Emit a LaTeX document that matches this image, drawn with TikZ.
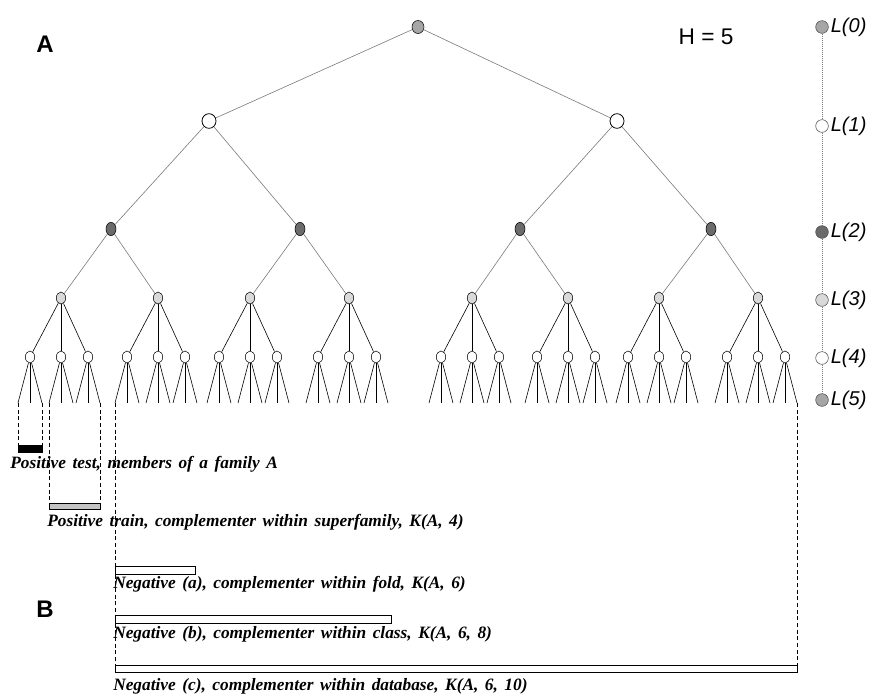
\documentclass[tikz,border=0pt]{standalone}
\usepackage{fontspec}
\setmainfont{Liberation Serif}
\setsansfont{Liberation Sans}
\newfontfamily\capfont{Liberation Serif}[WordSpace=1.5]
\usetikzlibrary{positioning,shapes.geometric}
\definecolor{midgray}{HTML}{A6A6A6}
\definecolor{deepgray}{HTML}{6B6B6B}
\definecolor{palegray}{HTML}{D9D9D9}
\definecolor{edgegray}{HTML}{7A7A7A}
\definecolor{stipple}{HTML}{C4C4C4}
\tikzset{
  paneltag/.style={font=\sffamily\bfseries\fontsize{18}{20}\selectfont},
  heighttag/.style={font=\sffamily\fontsize{17}{19}\selectfont},
  lvltext/.style={font=\sffamily\itshape\fontsize{15}{17}\selectfont,inner sep=0pt},
  caption/.style={font=\capfont\bfseries\itshape\fontsize{13}{15}\selectfont,anchor=west,inner sep=0pt},
  treenode/.style={ellipse,draw=black,line width=0.4pt,inner sep=0pt},
  rootnode/.style={treenode,fill=midgray,minimum width=9pt,minimum height=9.75pt},
  opennode/.style={treenode,fill=white,line width=0.6pt,minimum width=10.5pt,minimum height=11pt},
  darknode/.style={treenode,fill=deepgray,minimum width=7.5pt,minimum height=10pt},
  palenode/.style={treenode,fill=palegray,minimum width=7pt,minimum height=9pt},
  smallnode/.style={treenode,fill=white,minimum width=7pt,minimum height=9pt},
  legnode/.style={circle,draw=black!70,line width=0.4pt,inner sep=0pt,minimum size=9.5pt},
  edge/.style={draw=edgegray,line width=0.45pt},
  twig/.style={draw=black,line width=0.45pt},
  twigmid/.style={draw=black,line width=0.65pt},
  legline/.style={draw=edgegray,line width=0.5pt,densely dotted},
  guide/.style={draw=black,line width=0.6pt,dash pattern=on 3pt off 2pt},
  bar/.style={draw=black,line width=0.5pt,inner sep=0pt,anchor=north west}
}
\begin{document}
\begin{tikzpicture}[x=0.75pt,y=-0.75pt]
\path[use as bounding box] (0,0) rectangle (881,693);
% panel tags
\node[paneltag] (tagA) at (45,44) {A};
\node[paneltag] (tagB) at (45,609) {B};
\node[heighttag] (hgt) at (706,37) {H = 5};
% the tree
\node[rootnode] (r) at (418,27) {};
\foreach \i/\x in {1/209,2/617}{
  \node[opennode] (a\i) at (\x,121) {};
  \draw[edge] (r) -- (a\i);
}
\foreach \i/\x/\p in {1/111/1,2/300/1,3/520/2,4/711/2}{
  \node[darknode] (b\i) at (\x,229) {};
  \draw[edge] (a\p) -- (b\i);
}
\foreach \i/\x/\p in {1/61/1,2/158/1,3/250/2,4/349/2,5/472/3,6/568/3,7/659/4,8/758/4}{
  \node[palenode] (c\i) at (\x,298) {};
  \draw[edge] (b\p) -- (c\i);
  \foreach \j/\dx/\st in {1/-31/twig,2/0/twigmid,3/27/twig}{
    \node[smallnode] (d\i-\j) at ({\x+(\dx)},357) {};
    \draw[\st] (c\i) -- (d\i-\j);
    \foreach \k/\lx/\sk in {1/-12/twig,2/0/twigmid,3/12/twig}{
      \coordinate (e\i-\j-\k) at ({\x+(\dx)+(\lx)},403);
      \draw[\sk] (d\i-\j) -- (e\i-\j-\k);
    }
  }
}
% level legend
\foreach \i/\y/\fl in {0/27/midgray,1/126/white,2/232/deepgray,3/300/palegray,4/358/white,5/400/midgray}{
  \node[legnode,fill=\fl] (l\i) at (822,\y) {};
  \node[lvltext,right=1.5pt of l\i] (lt\i) {L(\i)};
}
\foreach \i [evaluate=\i as \n using int(\i+1)] in {0,...,4}
  \draw[legline] (l\i) -- (l\n);
% part B: sets
\node[bar,fill=black,minimum width=18pt,minimum height=5.25pt] (ptest) at (18,445) {};
\node[bar,fill=stipple,minimum width=38.25pt,minimum height=4.5pt] (ptrain) at (49,503) {};
\node[bar,fill=white,minimum width=60pt,minimum height=6pt] (nega) at (115,566) {};
\node[bar,fill=white,minimum width=207pt,minimum height=6pt] (negb) at (115,615) {};
\node[bar,fill=white,minimum width=511.5pt,minimum height=5.25pt] (negc) at (115,665) {};
\draw[guide] (e1-1-1) -- (e1-1-1 |- ptest.north);
\draw[guide] (e1-1-3) -- (e1-1-3 |- ptest.north);
\draw[guide] (e1-2-1) -- (e1-2-1 |- ptrain.north);
\draw[guide] (e1-3-3) -- (e1-3-3 |- ptrain.north);
\draw[guide] (e2-1-1) -- (e2-1-1 |- nega.north);
\draw[guide] (nega.south west) -- (negb.north west);
\draw[guide] (negb.south west) -- (negc.north west);
\draw[guide] (e8-3-3) -- (e8-3-3 |- negc.north);
\node[caption] (tptest) at (10,464) {Positive test, members of a family A};
\node[caption] (tptrain) at (47,522) {Positive train, complementer within superfamily, K(A, 4)};
\node[caption] (tnega) at (113,584) {Negative (a), complementer within fold, K(A, 6)};
\node[caption] (tnegb) at (113,634) {Negative (b), complementer within class, K(A, 6, 8)};
\node[caption] (tnegc) at (113,686) {Negative (c), complementer within database, K(A, 6, 10)};
\end{tikzpicture}
\end{document}
